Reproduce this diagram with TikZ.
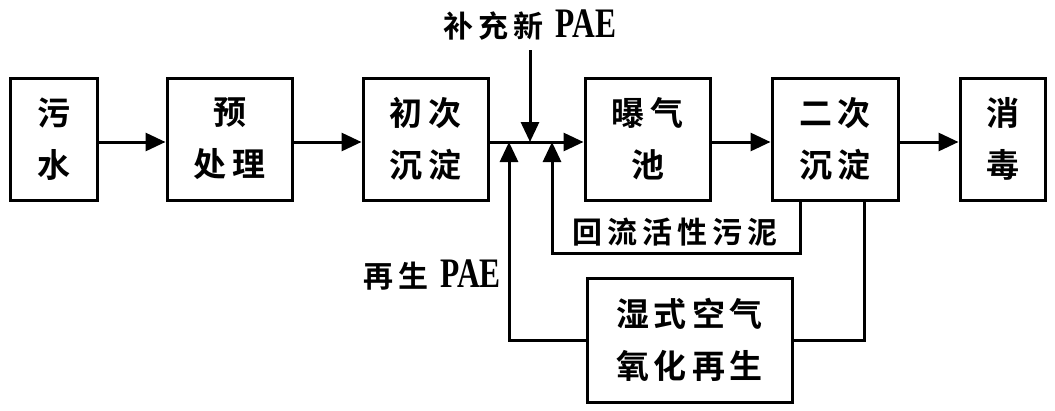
\documentclass[tikz,border=0pt]{standalone}
\usepackage{fontspec}
\usepackage{graphicx}
\setmainfont{Noto Sans CJK SC}[BoldFont={Noto Sans CJK SC Bold}]
\newfontfamily\latinpae{Liberation Serif}[Scale=1.0]
\newcommand{\paeword}{\scalebox{1.05}[1.4]{\latinpae\bfseries PAE}}
\newcommand{\myGp}{\hspace{6pt}}
\newcommand{\myLg}{\hspace{5pt}}
\usetikzlibrary{arrows.meta}
\tikzset{
  procbox/.style={draw, line width=3pt, inner sep=0pt, font=\fontsize{33}{52}\selectfont\bfseries, align=center},
  arr/.style={line width=3pt, -{Triangle[length=20pt,width=18pt]}},
  ln/.style={line width=3pt},
  lbl/.style={inner sep=0pt, font=\fontsize{30}{34}\selectfont\bfseries}
}
\begin{document}
\begin{tikzpicture}[x=1pt,y=-1pt]
\useasboundingbox (0,0) rectangle (1055,410);
\fill[white] (0,0) rectangle (1055,410);
% boxes
\node[procbox, minimum width=87pt, minimum height=122pt] (wu) at (53.5,139) {污\\水};
\node[procbox, minimum width=125pt, minimum height=122pt] (yu) at (229.5,139) {预\\处\myGp 理};
\node[procbox, minimum width=125pt, minimum height=122pt] (chu) at (425.5,139) {初\myGp 次\\沉\myGp 淀};
\node[procbox, minimum width=125pt, minimum height=122pt] (pu) at (647.5,139) {曝\myGp 气\\池};
\node[procbox, minimum width=126pt, minimum height=122pt] (er) at (835,139) {二\myGp 次\\沉\myGp 淀};
\node[procbox, minimum width=85pt, minimum height=122pt] (xiao) at (1002.5,139) {消\\毒};
\node[procbox, minimum width=205pt, minimum height=124pt] (wet) at (689.5,340) {湿\myLg 式\myLg 空\myLg 气\\氧\myLg 化\myLg 再\myLg 生};
% helper coordinates
\coordinate (main) at (0,142);
\coordinate (supTop) at (530,50);
\coordinate (supEnd) at (530,142);
\coordinate (regX) at (509,142);
\coordinate (retX) at (552,142);
\coordinate (retY) at (0,253);
\coordinate (wetX) at (864,0);
% main flow
\draw[arr] (wu.east |- main) -- (yu.west |- main);
\draw[arr] (yu.east |- main) -- (chu.west |- main);
\draw[arr] (chu.east |- main) -- (pu.west |- main);
\draw[arr] (pu.east |- main) -- (er.west |- main);
\draw[arr] (er.east |- main) -- (xiao.west |- main);
% supplement PAE
\node[lbl] (supl) at (530,25) {补\myLg 充\myLg 新\hspace{12pt}\paeword};
\draw[arr] (supTop) -- (supEnd);
% return sludge
\coordinate (erRet) at (800,0);
\draw[arr] (er.south -| erRet) -- (erRet |- retY) -- (retX |- retY) -- (retX);
\node[lbl] (retl) at (675,232) {回\myLg 流\myLg 活\myLg 性\myLg 污\myLg 泥};
% wet oxidation loop
\draw[ln] (er.south -| wetX) -- (wetX |- wet.east) -- (wet.east);
\draw[arr] (wet.west) -- (regX |- wet.west) -- (regX);
\node[lbl, anchor=east] (regl) at (501,275) {再\myLg 生\hspace{12pt}\paeword};
\end{tikzpicture}
\end{document}
